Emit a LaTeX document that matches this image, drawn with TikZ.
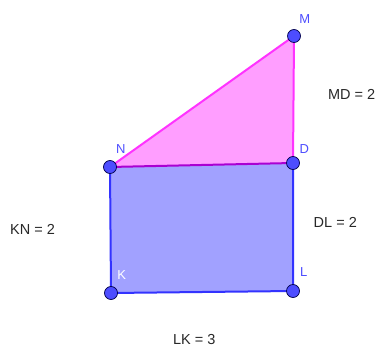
\documentclass[tikz,border=0pt]{standalone}
\usepackage{fontspec}
\setmainfont{Liberation Sans}
\begin{document}
\begin{tikzpicture}[x=1pt,y=-1pt,
  pt/.style={circle,draw=black!70!blue,fill=ptblue,line width=0.7pt,inner sep=0pt,minimum size=13pt},
  plab/.style={text=ptblue,inner sep=0pt,font=\fontsize{13}{15}\selectfont},
  tlab/.style={text=textgray,inner sep=0pt,font=\fontsize{14.5}{17}\selectfont}]
\definecolor{ptblue}{RGB}{77,77,255}
\definecolor{textgray}{RGB}{40,40,40}
\definecolor{rectfill}{RGB}{161,161,255}
\definecolor{rectline}{RGB}{51,51,255}
\definecolor{trifill}{RGB}{255,158,255}
\definecolor{triline}{RGB}{255,51,255}
\definecolor{ndline}{RGB}{170,0,210}
\useasboundingbox (0,0) rectangle (379,347);
\coordinate (cM) at (294,36);
\coordinate (cN) at (110,167);
\coordinate (cD) at (293,163);
\coordinate (cK) at (111,293);
\coordinate (cL) at (293,291);
\fill[rectfill] (cN) -- (cD) -- (cL) -- (cK) -- cycle;
\fill[trifill] (cN) -- (cM) -- (cD) -- cycle;
\draw[rectline,line width=2pt] (cD) -- (cL) -- (cK) -- (cN);
\draw[triline,line width=2pt] (cN) -- (cM) -- (cD);
\draw[ndline,line width=2pt] (cN) -- (cD);
\node[pt] (M) at (cM) {};
\node[pt] (N) at (cN) {};
\node[pt] (D) at (cD) {};
\node[pt] (K) at (cK) {};
\node[pt] (L) at (cL) {};
\node[plab] (lM) at (304.7,19.3) {M};
\node[plab] (lN) at (120.7,148.7) {N};
\node[plab] (lD) at (304.3,148.7) {D};
\node[plab,text=white] (lK) at (121.7,275.3) {K};
\node[plab] (lL) at (303.7,272.3) {L};
\node[tlab] (tMD) at (351.7,94.7) {MD = 2};
\node[tlab] (tDL) at (335.3,222.7) {DL = 2};
\node[tlab] (tKN) at (32.5,229.6) {KN = 2};
\node[tlab] (tLK) at (194.2,339.3) {LK = 3};
\end{tikzpicture}
\end{document}
